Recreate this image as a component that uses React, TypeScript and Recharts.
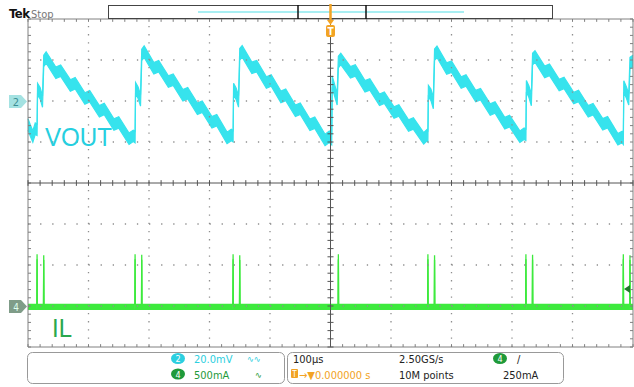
import React from 'react'
import { ComposedChart, Area, XAxis, YAxis, ReferenceLine } from 'recharts'

// channel 2 (VOUT), 20 mV/div, time in µs (100 µs/div)
const voutTime = [
  0, 4, 8, 12,
  15, 15.8, 20, 24, 26, 30, 46, 54, 70, 78, 94, 102, 118, 126, 142, 150, 167, 174,
  177, 177.8, 182, 186, 188, 192, 208, 216, 232, 240, 256, 264, 280, 288, 304, 312, 329, 336,
  339, 339.8, 344, 348, 350, 354, 370, 378, 394, 402, 418, 426, 442, 450, 466, 474, 491, 498,
  502, 502.8, 507, 511, 513, 517, 533, 541, 557, 565, 581, 589, 605, 613, 629, 637, 654, 660,
  661, 661.8, 666, 670, 672, 676, 692, 700, 716, 724, 740, 748, 764, 772, 788, 796, 813, 820,
  823, 823.8, 828, 832, 834, 838, 854, 862, 878, 886, 902, 910, 926, 934, 950, 958, 975, 982,
  984, 984.8, 989, 993, 995, 1000,
]
const voutMv = [
  -11.5, -14.5, -17.3, -13.5,
  -14, 5.8, 3.8, -0.3, 19.5, 21.2, 13.8, 14.8, 7.6, 8.7, 1.2, 2.3, -5.0, -3.9, -11.5, -10.5, -18.4, -17.0,
  -17.6, 6.2, 4.0, 0.3, 22.5, 24.1, 16.0, 17.0, 9.5, 10.4, 2.8, 3.8, -3.8, -2.8, -10.4, -9.4, -18.0, -16.6,
  -17.2, 5.9, 3.6, -0.2, 22.8, 24.2, 16.2, 17.0, 9.0, 10.0, 2.0, 3.0, -4.8, -3.8, -11.6, -10.6, -19.0, -17.5,
  -18.6, 9.5, 5.0, 0.8, 19.0, 20.5, 14.0, 14.9, 7.2, 8.1, 0.6, 1.6, -5.6, -4.6, -12.0, -11.0, -18.2, -16.5,
  -17.0, 4.8, 3.0, -1.0, 22.6, 24.0, 15.8, 16.7, 9.0, 10.0, 2.4, 3.3, -4.2, -3.2, -10.8, -9.8, -17.4, -16.0,
  -16.5, 7.2, 4.5, 0.5, 20.5, 21.7, 14.2, 15.2, 7.8, 8.8, 1.4, 2.4, -5.0, -4.0, -11.4, -10.4, -18.7, -17.6,
  -18.4, 7.1, 4.2, 0.8, 18.5, 19.5,
]

// channel 4 (IL), 500 mA/div
const ilTime = [
  0, 14.6, 15, 15.4, 25.6, 26, 26.4,
  176.6, 177, 177.4, 187.6, 188, 188.4,
  338.6, 339, 339.4, 349.6, 350, 350.4,
  512.6, 513, 513.4,
  660.6, 661, 661.4, 671.6, 672, 672.4,
  822.6, 823, 823.4, 833.6, 834, 834.4,
  983.6, 984, 984.4, 994.6, 995, 995.4, 1000,
]
const ilMa = [
  -10, -10, 600, -10, -10, 590, -10,
  -10, 600, -10, -10, 595, -10,
  -10, 600, -10, -10, 590, -10,
  -10, 600, -10,
  -10, 600, -10, -10, 590, -10,
  -10, 600, -10, -10, 595, -10,
  -10, 600, -10, -10, 590, -10, -10,
]

// graticule, in VOUT units (mV) and time (µs)
const V_TOP = 40
const V_BOTTOM = -120
const V_CENTER = -40
const majorT = [100, 200, 300, 400, 600, 700, 800, 900]
const majorV = [20, 0, -20, -60, -80, -100]
const minorT = Array.from({ length: 51 }, (_, i) => i * 20)
const minorV = Array.from({ length: 41 }, (_, i) => V_BOTTOM + i * 4)

const VOUT_HALF = 2.8 // half thickness of the noisy trace, mV
const IL_HALF = 30 // mA

const rows = [
  ...voutTime.map((t, i) => ({ t, v: [voutMv[i] - VOUT_HALF, voutMv[i] + VOUT_HALF] })),
  ...ilTime.map((t, i) => ({ t, il: [ilMa[i] - IL_HALF, ilMa[i] + IL_HALF] })),
].sort((a, b) => a.t - b.t)

const CYAN = '#36e3ed'
const GREEN = '#3dea3d'
const DOTS = '#8e8e8e'
const FRAME = '#808080'
const CENTER = '#555'
const FONT = "'DejaVu Sans Condensed', 'Liberation Sans Narrow', 'DejaVu Sans', sans-serif"

export default function App() {
  return (
    <div style={{ position: 'absolute', left: 0, top: 0, width: 634, height: 387, background: '#fff' }}>
      <ComposedChart width={634} height={387} data={rows} margin={{ top: 19, right: 1, bottom: 40, left: 28 }}>
        <XAxis xAxisId="t" dataKey="t" type="number" domain={[0, 1000]} hide />
        <YAxis yAxisId="v2" type="number" domain={[V_BOTTOM, V_TOP]} hide />
        <YAxis yAxisId="i4" orientation="right" type="number" domain={[-500, 3500]} hide />

        {majorT.map((t) => (
          <ReferenceLine key={'gx' + t} xAxisId="t" yAxisId="v2" x={t} stroke={DOTS} strokeWidth={1.3} strokeDasharray="1.3 6.9" />
        ))}
        {majorV.map((v) => (
          <ReferenceLine key={'gy' + v} xAxisId="t" yAxisId="v2" y={v} stroke={DOTS} strokeWidth={1.3} strokeDasharray="1.3 10.8" />
        ))}

        <Area xAxisId="t" yAxisId="v2" type="linear" dataKey="v" stroke={CYAN} strokeWidth={1.2} fill={CYAN}
          fillOpacity={1} connectNulls dot={false} activeDot={false} isAnimationActive={false} />
        <Area xAxisId="t" yAxisId="i4" type="linear" dataKey="il" stroke={GREEN} strokeWidth={1.3} fill={GREEN}
          fillOpacity={1} connectNulls dot={false} activeDot={false} isAnimationActive={false} />

        {/* frame with inward ticks */}
        <ReferenceLine xAxisId="t" yAxisId="v2" y={V_TOP} stroke={FRAME} />
        <ReferenceLine xAxisId="t" yAxisId="v2" y={V_BOTTOM} stroke={FRAME} />
        <ReferenceLine xAxisId="t" yAxisId="v2" x={0} stroke={FRAME} />
        <ReferenceLine xAxisId="t" yAxisId="v2" x={1000} stroke={FRAME} />
        {minorT.map((t) => (
          <ReferenceLine key={'tt' + t} xAxisId="t" yAxisId="v2" stroke={FRAME}
            segment={[{ x: t, y: V_TOP }, { x: t, y: V_TOP - 1.4 }]} />
        ))}
        {minorT.map((t) => (
          <ReferenceLine key={'tb' + t} xAxisId="t" yAxisId="v2" stroke={FRAME}
            segment={[{ x: t, y: V_BOTTOM }, { x: t, y: V_BOTTOM + 1.4 }]} />
        ))}
        {minorV.map((v) => (
          <ReferenceLine key={'tl' + v} xAxisId="t" yAxisId="v2" stroke={FRAME}
            segment={[{ x: 0, y: v }, { x: 5, y: v }]} />
        ))}
        {minorV.map((v) => (
          <ReferenceLine key={'tr' + v} xAxisId="t" yAxisId="v2" stroke={FRAME}
            segment={[{ x: 995, y: v }, { x: 1000, y: v }]} />
        ))}

        {/* center cross with ticks */}
        <ReferenceLine xAxisId="t" yAxisId="v2" x={500} stroke={CENTER} />
        <ReferenceLine xAxisId="t" yAxisId="v2" y={V_CENTER} stroke={CENTER} />
        {minorT.map((t) => (
          <ReferenceLine key={'cx' + t} xAxisId="t" yAxisId="v2" stroke={CENTER}
            segment={[{ x: t, y: V_CENTER - 1.4 }, { x: t, y: V_CENTER + 1.4 }]} />
        ))}
        {minorV.map((v) => (
          <ReferenceLine key={'cy' + v} xAxisId="t" yAxisId="v2" stroke={CENTER}
            segment={[{ x: 495, y: v }, { x: 505, y: v }]} />
        ))}
      </ComposedChart>

      <svg width={634} height={387} style={{ position: 'absolute', left: 0, top: 0, pointerEvents: 'none' }} fontFamily={FONT}>
        {/* header */}
        <text x={9} y={18} fontSize={13} fontWeight="bold" fill="#111" letterSpacing={-0.5}>Tek</text>
        <text x={31} y={18} fontSize={11} fill="#777">Stop</text>
        <rect x={108.5} y={5.5} width={444} height={13} fill="#fff" stroke="#444" />
        <line x1={198} x2={464} y1={12} y2={12} stroke="#a8eef2" strokeWidth={2} />
        <line x1={298} x2={298} y1={5} y2={19} stroke="#111" strokeWidth={1.5} />
        <line x1={366} x2={366} y1={5} y2={19} stroke="#111" strokeWidth={1.5} />
        <line x1={330.5} x2={330.5} y1={4} y2={21} stroke="#f2a324" strokeWidth={2.5} />
        <path d="M327,20 L334,20 L330.5,25 Z" fill="#f2a324" />
        <rect x={326} y={25} width={9} height={12} rx={2} fill="#f2a324" />
        <text x={330.5} y={35} fontSize={10} fontWeight="bold" fill="#fff" textAnchor="middle">T</text>

        {/* channel markers */}
        <path d="M9,95 H21 L27,101.5 L21,108 H9 Z" fill="#a4e2e2" />
        <text x={16} y={106} fontSize={11} fill="#3b8e94" textAnchor="middle">2</text>
        <path d="M9,300 H21 L27,306.5 L21,313 H9 Z" fill="#7f9c88" />
        <text x={16} y={311} fontSize={10} fill="#dfe" textAnchor="middle">4</text>
        <path d="M624,289 L630,285 L630,293 Z" fill="#1f7a2a" />

        {/* trace labels */}
        <text x={45} y={146} fontSize={26} fill="#26cfe0" textLength={67} lengthAdjust="spacingAndGlyphs"
          fontFamily="'Liberation Sans', Arial, sans-serif">VOUT</text>
        <text x={52} y={337} fontSize={26} fill="#2aa84e" textLength={20} lengthAdjust="spacingAndGlyphs"
          fontFamily="'Liberation Sans', Arial, sans-serif">IL</text>

        {/* readout boxes */}
        <rect x={27.5} y={352.5} width={257} height={31} rx={5} fill="#fff" stroke="#999" />
        <rect x={287.5} y={352.5} width={276} height={31} rx={5} fill="#fff" stroke="#999" />

        <ellipse cx={178} cy={358.5} rx={7} ry={5.5} fill="#2ccfe0" />
        <text x={178} y={362} fontSize={9} fill="#fff" textAnchor="middle">2</text>
        <text x={194} y={363} fontSize={11} fill="#2ccfe0">20.0mV</text>
        <text x={247} y={362} fontSize={9} fill="#2ccfe0">∿∿</text>
        <ellipse cx={178} cy={374} rx={7} ry={5.5} fill="#1f9a3a" />
        <text x={178} y={377.5} fontSize={9} fill="#fff" textAnchor="middle">4</text>
        <text x={194} y={378.5} fontSize={11} fill="#1f9a3a">500mA</text>
        <text x={255} y={378} fontSize={9} fill="#1f9a3a">∿</text>

        <text x={293} y={363} fontSize={11} fill="#222">100µs</text>
        <text x={399} y={363} fontSize={11} fill="#222">2.50GS/s</text>
        <ellipse cx={500} cy={358.5} rx={7} ry={5.5} fill="#1f9a3a" />
        <text x={500} y={362} fontSize={9} fill="#fff" textAnchor="middle">4</text>
        <text x={517} y={363} fontSize={11} fill="#222">/</text>
        <rect x={291} y={369} width={7} height={9} rx={1} fill="#f2a324" />
        <text x={294.5} y={377} fontSize={8} fill="#fff" textAnchor="middle">T</text>
        <text x={299} y={378.5} fontSize={11} fill="#f2a324">→▼0.000000 s</text>
        <text x={399} y={378.5} fontSize={11} fill="#222">10M points</text>
        <text x={503} y={378.5} fontSize={11} fill="#222">250mA</text>
      </svg>
    </div>
  )
}
